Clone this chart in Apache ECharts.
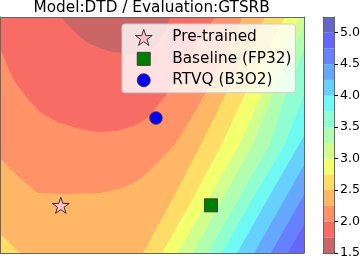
<!DOCTYPE html>
<html><head><meta charset="utf-8">
<script src="https://cdn.jsdelivr.net/npm/echarts@6/dist/echarts.min.js"></script>
<style>html,body{margin:0;padding:0;background:#fff}#c{width:363px;height:261px}</style>
</head><body><div id="c"></div>
<script>
const chartTitle = 'Model:DTD / Evaluation:GTSRB';
const levels = [1.5,1.75,2.0,2.25,2.5,2.75,3.0,3.25,3.5,3.75,4.0,4.25,4.5,4.75,5.0,5.25];
const bandColors = ['#ca6666','#f86c66','#ff9266','#ffb766','#ffdd66','#f2ff6e','#d1ff8f','#b0ffb0','#8fffd1','#6efaf2','#66d1ff','#66a8ff','#6680ff','#6666f8','#6666ca'];
const colorbarTicks = [1.5,2.0,2.5,3.0,3.5,4.0,4.5,5.0];

// contour lines, plane units (x 0-100, y 0-100)
const c175 = [[20.1,100],[22.4,96.6],[25.7,92.4],[28.9,89],[32.9,86.9],[36.8,85.2],[40.1,84.7],[44.4,83.9],[48.7,85.2],[52,89],[54.3,93.6],[55.9,100]];
const c200 = [[0,86.9],[2.3,79.7],[4.9,72.5],[8.9,65.7],[13.2,59.7],[18.8,55.5],[25.3,53],[31.9,51.3],[38.5,51.7],[43.8,53.8],[47,55.9],[49.7,58.9],[52,62.7],[54.3,66.5],[57.9,74.2],[62.5,83.9],[66.8,92.4],[70.7,100]];
const c225 = [[0,40.3],[3.3,35.6],[7.6,30.5],[12.5,25.4],[22,25],[32.9,25.4],[39.5,27.1],[45.1,30.5],[48.4,33.9],[50,36],[53.3,40.3],[57.6,46.2],[62.5,56.4],[67.4,67.4],[72.4,79.7],[76.3,90.3],[79.9,100]];
const c250a = [[0,8.1],[2.6,5.1],[4.9,2.1],[6.6,0]];
const c250b = [[47,0],[56.6,22.5],[66.1,46.2],[74.3,67.4],[87.2,100]];
const c275 = [[53.3,0],[63.2,22.5],[73,46.2],[80.6,67.4],[93.75,100]];
const c300 = [[58.6,0],[68.4,22.5],[78.9,46.2],[86.2,67.4],[98.4,100]];
const c325 = [[63.5,0],[73,22.5],[83.2,46.2],[89.8,67.4],[100,96.6]];
const c350 = [[68.4,0],[78.3,22.5],[88.8,46.2],[94.1,67.4],[100,86.4]];
const c375 = [[73,0],[82.9,22.5],[93.75,46.2],[100,66.9]];
const c400 = [[78,0],[88.8,24.6],[100,49.6]];
const c425 = [[83.6,0],[91.8,18.6],[100,37.3]];
const c450 = [[89.1,0],[100,24.6]];
const c475 = [[94.7,0],[100,11.9]];

const pretrained = [[20,20.2]];
const baseline = [[69.4,20.2]];
const rtvq = [[51.3,57.2]];
const seriesNames = ['Pre-trained','Baseline (FP32)','RTVQ (B3O2)'];

// plane corners (axis extents)
const TL=[0,100], BL=[0,0], BR=[100,0], TR=[100,100];
// sub-level regions {value < level}, painted from the highest level down
const regions = [
  {level:5.0, ring:[BL,BR,TR,TL]},
  {level:4.75, ring:[TL,BL,...c475,TR]},
  {level:4.5, ring:[TL,BL,...c450,TR]},
  {level:4.25, ring:[TL,BL,...c425,TR]},
  {level:4.0, ring:[TL,BL,...c400,TR]},
  {level:3.75, ring:[TL,BL,...c375,TR]},
  {level:3.5, ring:[TL,BL,...c350,TR]},
  {level:3.25, ring:[TL,BL,...c325,TR]},
  {level:3.0, ring:[TL,BL,...c300]},
  {level:2.75, ring:[TL,BL,...c275]},
  {level:2.5, ring:[TL,...c250a,...c250b]},
  {level:2.25, ring:[TL,...c225]},
  {level:2.0, ring:[TL,...c200]},
  {level:1.75, ring:c175}
];
const fillFor = l => bandColors[levels.indexOf(l) - 1];

const starPath = 'path://M50,0L61.23,34.55L97.55,34.55L68.17,55.9L79.39,90.45L50,69.1L20.61,90.45L31.83,55.9L2.45,34.55L38.77,34.55Z';
const squareIcon = 'path://M0,0M2,1.5h13v13h-13zM17,16';
const circleIcon = 'path://M0,0M2,8a6.5,6.5 0 1 0 13,0a6.5,6.5 0 1 0 -13,0zM17,16';

const frame = '#666';
const FONT = 'DejaVu Sans';
function frameAxis(extra){
  return Object.assign({type:'value', axisLine:{show:true,onZero:false,lineStyle:{color:frame,width:1}},
    axisTick:{show:false}, axisLabel:{show:false}, splitLine:{show:false}, z:10}, extra);
}

const chart = echarts.init(document.getElementById('c'), null, {renderer:'canvas'});
chart.setOption({
  animation:false,
  title:{text:chartTitle, left:33.5, top:1, padding:0, textStyle:{fontSize:15.3, fontWeight:'normal', fontFamily:FONT, color:'#000'}},
  legend:{orient:'vertical', left:122, top:24, padding:[5,4,4,12.8], itemWidth:17, itemHeight:16, itemGap:4.5,
    backgroundColor:'rgba(255,255,255,0.8)', borderColor:'#cccccc', borderWidth:1, borderRadius:3,
    textStyle:{fontSize:15.3, fontFamily:FONT, color:'#000', padding:[0,0,0,15], lineHeight:16},
    itemStyle:{borderWidth:0.9},
    data:[
      {name:seriesNames[0], icon:starPath, itemStyle:{color:'#ffc0cb', borderColor:'#222', borderWidth:0.9}},
      {name:seriesNames[1], icon:squareIcon, itemStyle:{color:'#008000', borderColor:'#333', borderWidth:0.9}},
      {name:seriesNames[2], icon:circleIcon, itemStyle:{color:'#0000ff', borderColor:'#333', borderWidth:0.9}}
    ]},
  grid:[{left:0, top:17, width:304, height:236}, {left:323, top:17, width:13, height:236}],
  xAxis:[
    frameAxis({gridIndex:0, min:0, max:100, position:'bottom'}),
    frameAxis({gridIndex:0, min:0, max:100, position:'top'}),
    frameAxis({gridIndex:1, min:0, max:1, position:'bottom'}),
    frameAxis({gridIndex:1, min:0, max:1, position:'top'})
  ],
  yAxis:[
    frameAxis({gridIndex:0, min:0, max:100, position:'left'}),
    frameAxis({gridIndex:0, min:0, max:100, position:'right'}),
    frameAxis({gridIndex:1, min:1.5, max:5.25, position:'left'}),
    frameAxis({gridIndex:1, min:1.5, max:5.25, position:'right',
      axisTick:{show:true, length:3.5, customValues:colorbarTicks, lineStyle:{color:'#000', width:1}},
      axisLabel:{show:true, customValues:colorbarTicks, formatter:v=>Number(v).toFixed(1), fontSize:12.6, fontFamily:FONT, color:'#000', margin:5.5}})
  ],
  series:[
    {type:'custom', xAxisIndex:0, yAxisIndex:0, z:1, silent:true,
      data:regions.map(r=>[0, r.level]),
      renderItem:(params, api)=>{
        const r = regions[params.dataIndex];
        return {type:'polygon', shape:{points:r.ring.map(p=>api.coord(p))}, style:{fill:fillFor(r.level)}};
      }},
    {type:'custom', xAxisIndex:2, yAxisIndex:3, z:1, silent:true,
      data:bandColors.map((c,i)=>[0.5,(levels[i]+levels[i+1])/2]),
      renderItem:(params, api)=>{
        const i = params.dataIndex;
        const p0 = api.coord([0, levels[i]]), p1 = api.coord([1, levels[i+1]]);
        return {type:'rect', shape:{x:p0[0], y:p1[1], width:p1[0]-p0[0], height:p0[1]-p1[1]}, style:{fill:bandColors[i]}};
      }},
    {name:seriesNames[0], type:'scatter', xAxisIndex:0, yAxisIndex:0, data:pretrained, symbol:starPath, symbolSize:[17,16],
      itemStyle:{color:'#ffc0cb', borderColor:'#222', borderWidth:0.9, opacity:1}, silent:true},
    {name:seriesNames[1], type:'scatter', xAxisIndex:0, yAxisIndex:0, data:baseline, symbol:'rect', symbolSize:13,
      itemStyle:{color:'#008000', borderColor:'#333', borderWidth:0.9, opacity:1}, silent:true},
    {name:seriesNames[2], type:'scatter', xAxisIndex:0, yAxisIndex:0, data:rtvq, symbol:'circle', symbolSize:12.5,
      itemStyle:{color:'#0000ff', borderColor:'#333', borderWidth:0.9, opacity:1}, silent:true}
  ]
});
</script></body></html>
